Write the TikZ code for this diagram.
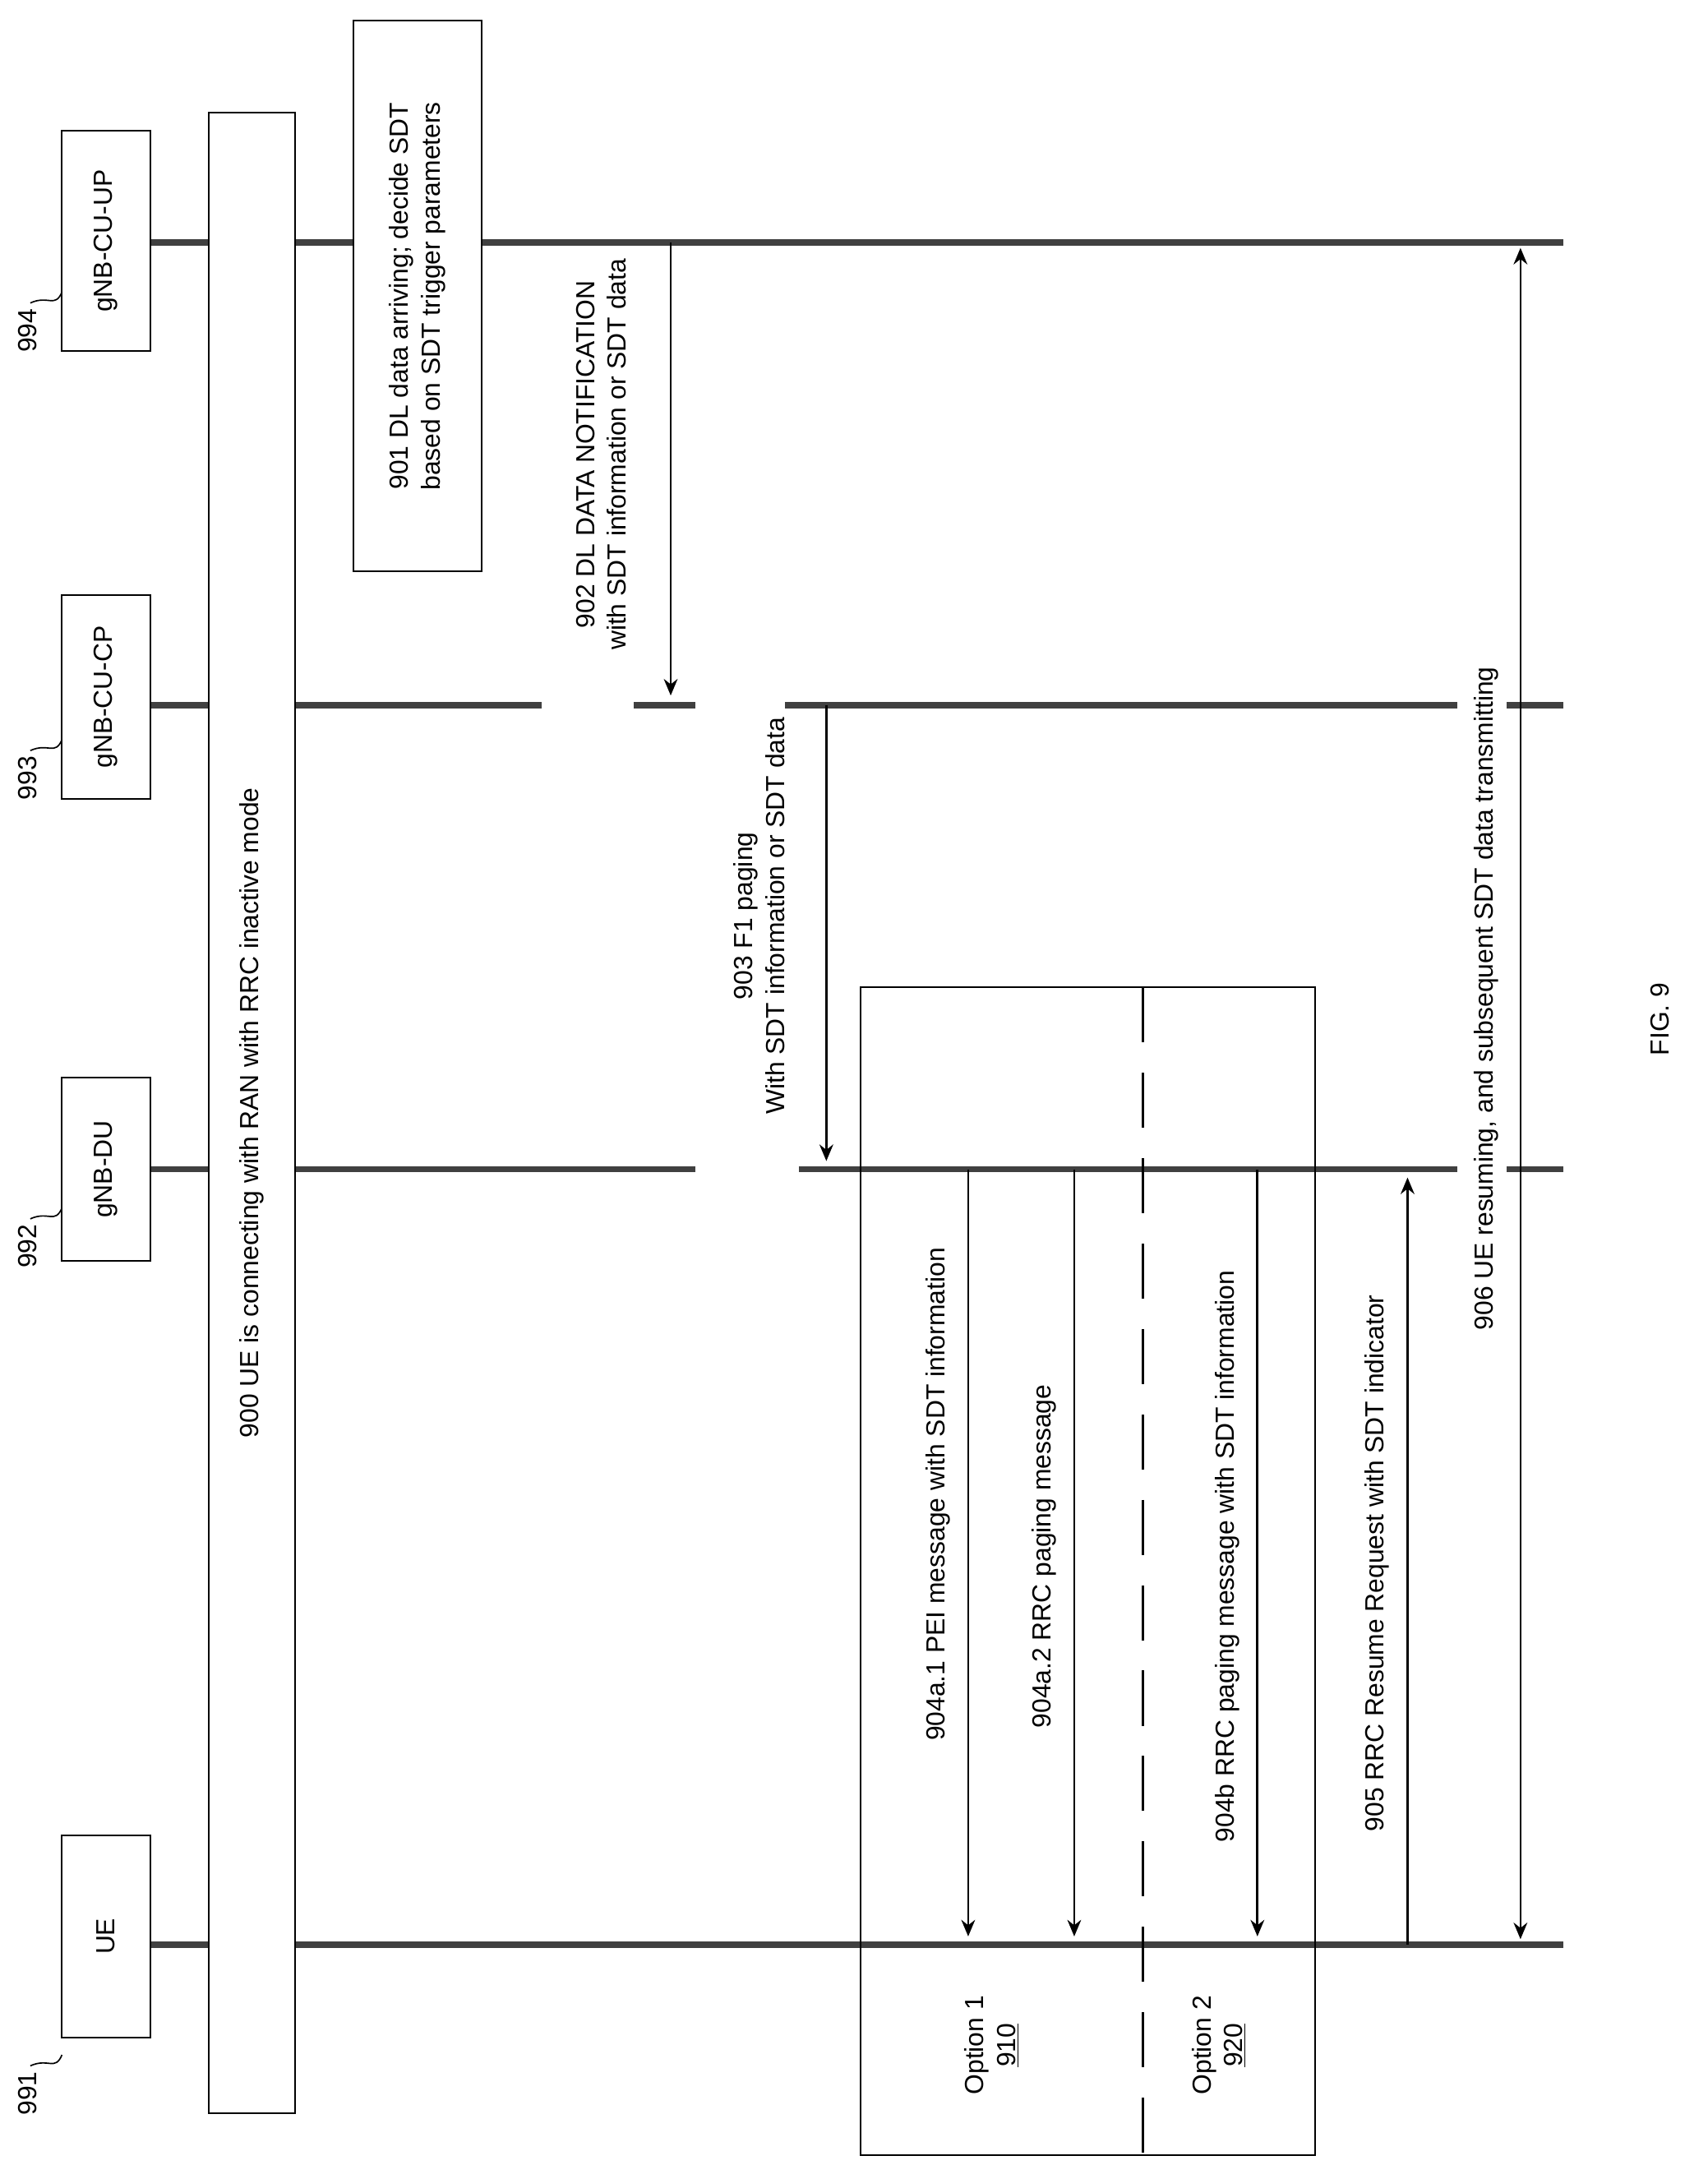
\documentclass[tikz,border=0pt]{standalone}
\usepackage{fontspec}
\setmainfont{Liberation Sans}
\usetikzlibrary{arrows.meta}
\begin{document}
\begin{tikzpicture}[x=1pt,y=-1pt,
 life/.style={line width=4.5pt,draw=black!75},
 msg/.style={line width=1.6pt,-{Stealth[length=12pt,width=10pt]}},
 box/.style={draw,line width=1.2pt,inner sep=0pt},
 lab/.style={rotate=90,font=\fontsize{19}{23}\selectfont,align=center,inner sep=0pt},
 ref/.style={font=\fontsize{19}{23}\selectfont,rotate=90,inner sep=0pt}]
\useasboundingbox (0,0) rectangle (1240,1572);
% lifelines
\draw[life] (110,1412) coordinate(ue0) -- (1135,1412) coordinate(ue1);
\draw[life] (110,849) -- (505,849) (580,849) -- (1058,849) (1094,849) -- (1135,849);
\draw[life] (110,512) -- (393,512) (460,512) -- (505,512) (570,512) -- (1058,512) (1094,512) -- (1135,512);
\draw[life] (110,176) -- (1135,176);
% actor boxes
\node[box,fill=white,minimum width=65pt,minimum height=147pt] (ue) at (77,1406) {};
\node[lab] at (ue) {UE};
\node[box,fill=white,minimum width=65pt,minimum height=133pt] (du) at (77,849) {};
\node[lab] at (du) {gNB-DU};
\node[box,fill=white,minimum width=65pt,minimum height=148pt] (cp) at (77,506) {};
\node[lab] at (cp) {gNB-CU-CP};
\node[box,fill=white,minimum width=65pt,minimum height=160pt] (up) at (77,175) {};
\node[lab] at (up) {gNB-CU-UP};
% refs
\node[ref] (r991) at (20,1520) {991};
\node[ref] (r992) at (20,905) {992};
\node[ref] (r993) at (20,565) {993};
\node[ref] (r994) at (20,240) {994};
\foreach \y in {1500,885,545,220}{
 \draw[line width=1pt] (22,\y) .. controls (35,\y-6) and (40,\y+4) .. (45,\y-8);}
% 900
\node[box,fill=white,minimum width=63pt,minimum height=1453pt] (b900) at (183,808) {};
\node[lab] at (b900) {900 UE is connecting with RAN with RRC inactive mode};
% 901
\node[box,fill=white,minimum width=93pt,minimum height=400pt] (b901) at (303,215) {};
\node[lab] at (b901) {901 DL data arriving; decide SDT\\based on SDT trigger parameters};
% 902
\coordinate (a902s) at (487,176); \coordinate (a902e) at (487,505);
\draw[msg] (a902s) -- (a902e);
\node[lab,anchor=south] at (455,330) {902 DL DATA NOTIFICATION\\with SDT information or SDT data};
% 903
\coordinate (a903s) at (600,512); \coordinate (a903e) at (600,843);
\draw[msg] (a903s) -- (a903e);
\node[lab,anchor=south] at (570,665) {903 F1 paging\\With SDT information or SDT data};
% option box
\node[box,minimum width=330pt,minimum height=848pt] (opt) at (790,1141) {};
\draw[line width=1.5pt,dash pattern=on 40pt off 22pt] (830,717) -- (830,1565);
\node[lab] at (720,1485) {Option 1\\\underline{910}};
\node[lab] at (885,1485) {Option 2\\\underline{920}};
% 904
\draw[msg] (703,849) -- (703,1406);
\node[lab,anchor=south] at (690,1085) {904a.1 PEI message with SDT information};
\draw[msg] (780,849) -- (780,1406);
\node[lab,anchor=south] at (767,1130) {904a.2 RRC paging message};
\draw[msg] (913,849) -- (913,1406);
\node[lab,anchor=south] at (900,1130) {904b RRC paging message with SDT information};
% 905
\draw[msg] (1022,1412) -- (1022,855);
\node[lab,anchor=south] at (1009,1135) {905 RRC Resume Request with SDT indicator};
% 906
\draw[line width=1.6pt,{Stealth[length=12pt,width=10pt]}-{Stealth[length=12pt,width=10pt]}] (1104,180) -- (1104,1408);
\node[lab,anchor=south] at (1088,725) {906 UE resuming, and subsequent SDT data transmitting};
\node[lab] at (1205,740) {FIG. 9};
\end{tikzpicture}
\end{document}
